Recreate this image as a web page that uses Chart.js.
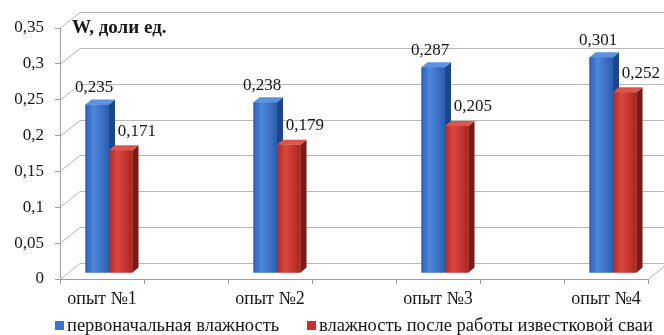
<!DOCTYPE html>
<html>
<head>
<meta charset="utf-8">
<script src="https://cdn.jsdelivr.net/npm/chart.js@4/dist/chart.umd.min.js"></script>
<style>
  html, body { margin: 0; padding: 0; background: #fff; }
  canvas { display: block; }
</style>
</head>
<body>
<canvas id="c" width="664" height="335"></canvas>
<script>
// Moisture (W, fractions) per experiment
const categories = ['опыт №1', 'опыт №2', 'опыт №3', 'опыт №4'];
const initialMoisture = [0.235, 0.238, 0.287, 0.301];
const afterPileMoisture = [0.171, 0.179, 0.205, 0.252];
const seriesNames = ['первоначальная влажность', 'влажность после работы известковой сваи'];
const axisTitle = 'W, доли ед.';
const yMax = 0.35;
const yStep = 0.05;

// every experiment occupies one slot followed by an empty spacer slot
function toSlots(arr, blank) {
  const out = [];
  arr.forEach((v, i) => {
    out.push(v);
    if (i < arr.length - 1) out.push(blank);
  });
  return out;
}
const slotLabels = toSlots(categories, '');
const slotInitial = toSlots(initialMoisture, null);
const slotAfter = toSlots(afterPileMoisture, null);

const FAMILY = "'Liberation Serif', serif";
Chart.defaults.font.family = FAMILY;
const GRID = '#b9b9b9';
const AXIS = '#9e9e9e';
const TEXT = '#161616';

// pseudo-3D geometry
const DX = 20, DY = -16;   // back wall offset from the front axis plane
const BX = 7, BY = -6;     // plane where the columns stand
const SX = 6, SY = -5;     // column depth

const palette = [
  { stops: ['#2e61b8', '#4c88dd', '#2b5caf'], side: '#1d4688', top: '#5e92df', box: '#3b72cc' },
  { stops: ['#b42822', '#d9473e', '#ae251f'], side: '#7c1a16', top: '#dc554c', box: '#c9302b' }
];

const fmt = v => String(parseFloat(Number(v).toFixed(3))).replace('.', ',');

const box3d = {
  id: 'box3d',
  beforeDatasetsDraw(chart) {
    const { ctx, chartArea, scales } = chart;
    const y = scales.y;
    ctx.save();
    ctx.strokeStyle = GRID;
    ctx.lineWidth = 1;
    // back wall grid lines with their side-wall diagonals
    for (let v = 0; v <= yMax + 1e-9; v += yStep) {
      const py = Math.round(y.getPixelForValue(v)) + 0.5;
      ctx.beginPath();
      ctx.moveTo(chartArea.left, py);
      ctx.lineTo(chartArea.left + DX, py + DY);
      ctx.lineTo(chart.width, py + DY);
      ctx.stroke();
    }
    // right edge of the floor
    const by = Math.round(y.getPixelForValue(0)) + 0.5;
    ctx.beginPath();
    ctx.moveTo(chartArea.right, by);
    ctx.lineTo(chartArea.right + DX, by + DY);
    ctx.stroke();
    ctx.restore();

    ctx.save();
    ctx.translate(BX, BY);
  },
  afterDatasetsDraw(chart) {
    const { ctx } = chart;
    chart.data.datasets.forEach((ds, di) => {
      const meta = chart.getDatasetMeta(di);
      const pal = palette[di];
      meta.data.forEach((el, i) => {
        if (ds.data[i] == null) return;
        const p = el.getProps(['x', 'y', 'base', 'width'], true);
        const l = p.x - p.width / 2, r = p.x + p.width / 2;
        const t = p.y, b = p.base;
        // front face
        const g = ctx.createLinearGradient(l, 0, r, 0);
        g.addColorStop(0, pal.stops[0]);
        g.addColorStop(0.35, pal.stops[1]);
        g.addColorStop(1, pal.stops[2]);
        ctx.fillStyle = g;
        ctx.fillRect(l, t, r - l, b - t);
        // side face
        ctx.fillStyle = pal.side;
        ctx.beginPath();
        ctx.moveTo(r, t);
        ctx.lineTo(r + SX, t + SY);
        ctx.lineTo(r + SX, b + SY);
        ctx.lineTo(r, b);
        ctx.closePath();
        ctx.fill();
        // top face
        ctx.fillStyle = pal.top;
        ctx.beginPath();
        ctx.moveTo(l, t);
        ctx.lineTo(l + SX, t + SY);
        ctx.lineTo(r + SX, t + SY);
        ctx.lineTo(r, t);
        ctx.closePath();
        ctx.fill();
      });
    });
    ctx.restore();

    // value labels
    ctx.save();
    ctx.font = "17px 'Liberation Serif', serif";
    ctx.fillStyle = TEXT;
    ctx.textAlign = 'center';
    ctx.textBaseline = 'middle';
    chart.data.datasets.forEach((ds, di) => {
      const meta = chart.getDatasetMeta(di);
      meta.data.forEach((el, i) => {
        const v = ds.data[i];
        if (v == null) return;
        const p = el.getProps(['x', 'y'], true);
        const ox = di === 0 ? -3 : 16;
        const oy = di === 0 ? -17 : -19;
        ctx.fillText(fmt(v), p.x + BX + ox, p.y + BY + oy);
      });
    });
    ctx.restore();
  },
  afterDraw(chart) {
    const { ctx } = chart;
    ctx.save();
    // axis caption inside the plot
    ctx.font = "bold 19px 'Liberation Serif', serif";
    ctx.fillStyle = TEXT;
    ctx.textAlign = 'left';
    ctx.textBaseline = 'middle';
    ctx.fillText(axisTitle, 72, 28);

    // legend
    ctx.font = "18.5px 'Liberation Serif', serif";
    const items = [{ x: 55 }, { x: 307 }];
    items.forEach((it, i) => {
      ctx.fillStyle = palette[i].box;
      ctx.fillRect(it.x, 321, 9, 9);
      ctx.fillStyle = TEXT;
      ctx.fillText(chart.data.datasets[i].label, it.x + 12, 326);
    });
    ctx.restore();
  }
};

new Chart(document.getElementById('c'), {
  type: 'bar',
  data: {
    labels: slotLabels,
    datasets: [
      { label: seriesNames[0], data: slotInitial, backgroundColor: palette[0].box },
      { label: seriesNames[1], data: slotAfter, backgroundColor: palette[1].box }
    ]
  },
  options: {
    responsive: false,
    devicePixelRatio: 1,
    animation: false,
    events: [],
    layout: { padding: { left: 0, right: 16, top: 28, bottom: 0 } },
    datasets: { bar: { categoryPercentage: 0.56, barPercentage: 1 } },
    plugins: { legend: { display: false }, tooltip: { enabled: false } },
    scales: {
      x: {
        offset: true,
        grid: { offset: true, drawOnChartArea: false, drawTicks: true, tickLength: 5, color: AXIS },
        border: { display: true, color: AXIS },
        ticks: { autoSkip: false, maxRotation: 0, color: TEXT, font: { size: 18 }, padding: 4 },
        afterFit(s) { s.height = 56; }
      },
      y: {
        min: 0,
        max: yMax,
        grid: { drawOnChartArea: false, drawTicks: true, tickLength: 5, color: AXIS },
        border: { display: true, color: AXIS },
        ticks: { stepSize: yStep, color: TEXT, font: { size: 17 }, padding: 11, callback: v => fmt(v) },
        afterFit(s) { s.width = 60; }
      }
    }
  },
  plugins: [box3d]
});
</script>
</body>
</html>
